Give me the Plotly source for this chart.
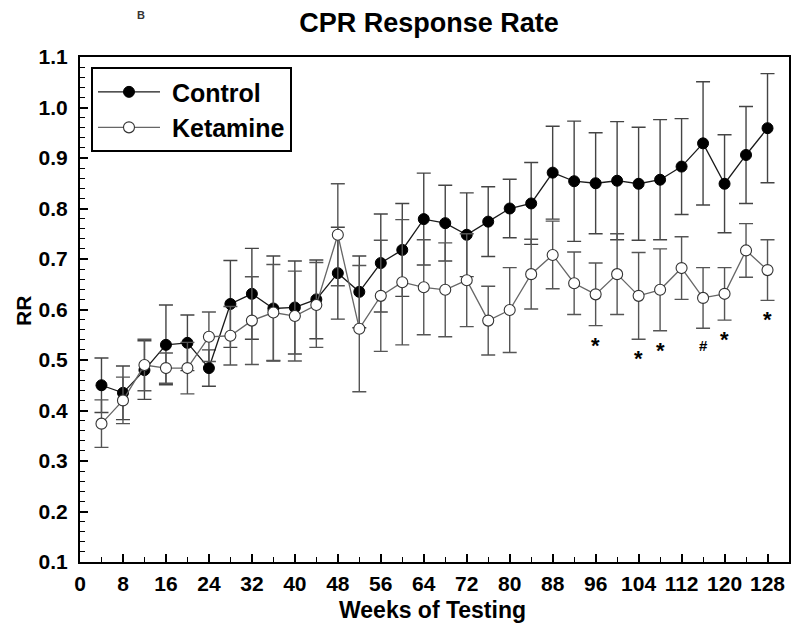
import plotly.graph_objects as go

weeks = [4, 8, 12, 16, 20, 24, 28, 32, 36, 40, 44, 48, 52, 56, 60, 64,
         68, 72, 76, 80, 84, 88, 92, 96, 100, 104, 108, 112, 116, 120, 124, 128]
control = [0.450, 0.435, 0.480, 0.530, 0.534, 0.484, 0.611, 0.631, 0.602, 0.604, 0.620, 0.672,
           0.635, 0.692, 0.718, 0.779, 0.771, 0.748, 0.774, 0.800, 0.810, 0.871, 0.854, 0.850,
           0.855, 0.849, 0.857, 0.883, 0.929, 0.849, 0.906, 0.959]
control_err = [0.054, 0.053, 0.058, 0.079, 0.055, 0.036, 0.086, 0.090, 0.104, 0.092, 0.078, 0.091,
               0.071, 0.097, 0.092, 0.091, 0.075, 0.083, 0.069, 0.058, 0.081, 0.092, 0.119, 0.100,
               0.117, 0.112, 0.119, 0.095, 0.122, 0.097, 0.096, 0.108]
ketamine = [0.374, 0.420, 0.490, 0.484, 0.484, 0.546, 0.548, 0.578, 0.594, 0.587, 0.609, 0.748,
            0.562, 0.627, 0.654, 0.644, 0.639, 0.658, 0.578, 0.599, 0.670, 0.708, 0.652, 0.630,
            0.670, 0.627, 0.639, 0.682, 0.623, 0.631, 0.717, 0.678]
ketamine_err = [0.047, 0.046, 0.051, 0.030, 0.051, 0.049, 0.058, 0.087, 0.095, 0.089, 0.084, 0.101,
                0.125, 0.110, 0.124, 0.094, 0.093, 0.092, 0.068, 0.084, 0.069, 0.067, 0.062, 0.062,
                0.080, 0.086, 0.081, 0.062, 0.060, 0.052, 0.053, 0.060]
sig_weeks = [96, 104, 108, 116, 120, 128]
sig_labels = ["*", "*", "*", "#", "*", "*"]

FONT = "Liberation Sans, Arial, sans-serif"
NBSP = "\u00a0"

# page body has an 8px default margin; figure is sized to fill the rest
W, H = 792, 628
ML, MR, MT, MB = 72, 11, 49, 74
PW, PH = W - ML - MR, H - MT - MB


def px_x(fx):
    return (fx - ML) / PW


def px_y(fy):
    return (H - MB - fy) / PH


fig = go.Figure()
fig.add_trace(go.Scatter(
    x=weeks, y=control, name=NBSP + "Control", mode="lines+markers",
    line=dict(color="#1a1a1a", width=1.3),
    marker=dict(symbol="circle", size=11, color="black", line=dict(color="black", width=1)),
    error_y=dict(type="data", array=control_err, visible=True, color="#444444", thickness=1.4, width=7),
))
fig.add_trace(go.Scatter(
    x=weeks, y=ketamine, name=NBSP + "Ketamine", mode="lines+markers",
    line=dict(color="#666666", width=1.3),
    marker=dict(symbol="circle", size=11, color="white", line=dict(color="#333333", width=1.1)),
    error_y=dict(type="data", array=ketamine_err, visible=True, color="#555555", thickness=1.4, width=7),
))

kidx = {w: i for i, w in enumerate(weeks)}
for w, lab in zip(sig_weeks, sig_labels):
    i = kidx[w]
    star = lab == "*"
    fig.add_annotation(
        x=w, y=ketamine[i] - ketamine_err[i], text=lab, showarrow=False,
        yanchor="top", yshift=-5 if star else -7,
        font=dict(family=FONT, size=22 if star else 15, color="black", weight="bold"),
    )

axis_common = dict(
    showline=True, linecolor="black", linewidth=2, mirror=True,
    ticks="inside", ticklen=8, tickwidth=1.5, tickcolor="black",
    showgrid=False, zeroline=False, automargin=False,
    tickfont=dict(family=FONT, size=21, color="black", weight="bold"),
)

fig.update_xaxes(
    range=[0, 132], tickmode="linear", tick0=0, dtick=8,
    minor=dict(ticks="inside", ticklen=5, tickwidth=1, tickcolor="black", dtick=4, tick0=0),
    ticklabelstandoff=2,
    **axis_common,
)
fig.update_yaxes(
    range=[0.1, 1.1], tickmode="linear", tick0=0.1, dtick=0.1, tickformat=".1f",
    minor=dict(ticks="inside", ticklen=5, tickwidth=1, tickcolor="black", dtick=0.02, tick0=0.1),
    ticklabelstandoff=6,
    **axis_common,
)

# axis titles as annotations for precise placement
fig.add_annotation(x=px_x(424.5), y=px_y(602), xref="paper", yref="paper",
                   text="Weeks of Testing", showarrow=False, xanchor="center", yanchor="middle",
                   font=dict(family=FONT, size=23, color="black", weight="bold"))
fig.add_annotation(x=px_x(15), y=px_y(303), xref="paper", yref="paper",
                   text="RR", showarrow=False, textangle=-90, xanchor="center", yanchor="middle",
                   font=dict(family=FONT, size=21, color="black", weight="bold"))
fig.add_annotation(x=px_x(127), y=px_y(-1), xref="paper", yref="paper",
                   text="B", showarrow=False,
                   font=dict(family=FONT, size=11, color="#333333", weight="bold"))

fig.update_layout(
    width=W, height=H,
    margin=dict(l=ML, r=MR, t=MT, b=MB),
    paper_bgcolor="white", plot_bgcolor="white",
    title=dict(text="CPR Response Rate", x=px_x(421), xref="paper", xanchor="center",
               y=1 - 14.5 / H, yanchor="middle",
               font=dict(family=FONT, size=27, color="black", weight="bold")),
    legend=dict(x=0.0155, y=0.98, xanchor="left", yanchor="top",
                bordercolor="black", borderwidth=2, bgcolor="white",
                itemwidth=62, tracegroupgap=0,
                font=dict(family=FONT, size=25, color="black", weight="bold")),
    showlegend=True,
)

fig.write_html("out.html")
